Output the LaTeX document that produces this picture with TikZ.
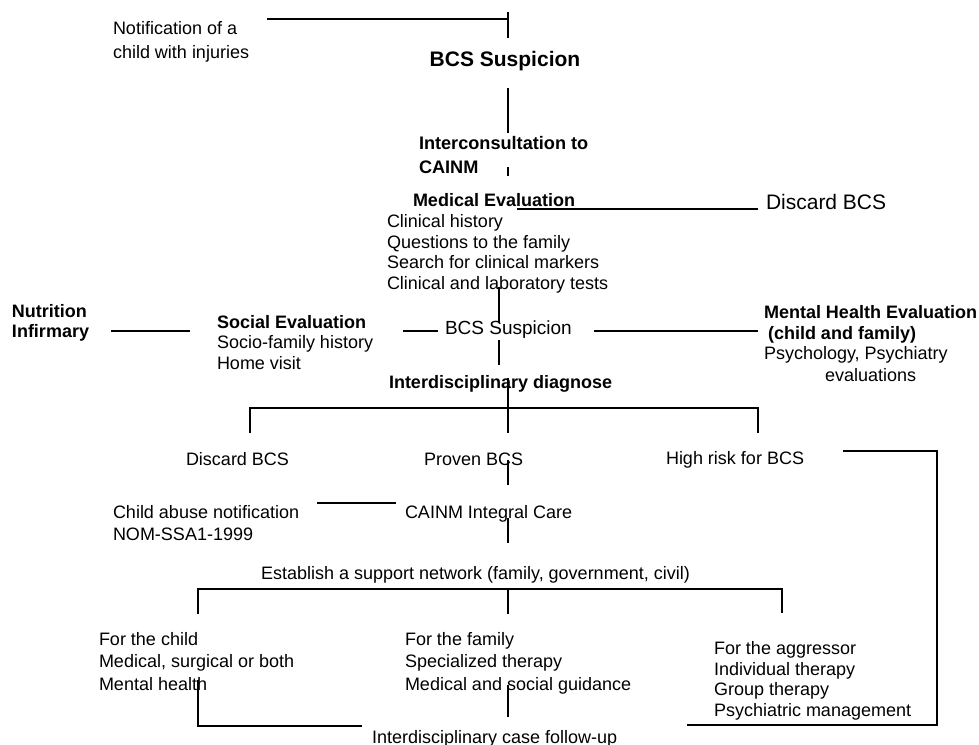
\documentclass[tikz,border=0pt]{standalone}
\usepackage{fontspec}
\setmainfont{Liberation Sans}
\newcommand{\fsz}[2]{\fontsize{#1}{#2}\selectfont}
\tikzset{
  txt/.style={inner sep=0pt, outer sep=0pt, anchor=base west, align=left, font=\fsz{13.5}{15.5}},
  btxt/.style={txt, font=\fsz{13.5}{15.5}\bfseries},
  ln/.style={line width=1.2pt, draw=black}
}
\begin{document}
\begin{tikzpicture}[x=0.75pt, y=-0.75pt]
\fill[white] (0,0) rectangle (979,744);
\useasboundingbox (0,0) rectangle (979,744);

% ---------- texts (multi-line nodes: position = baseline of last line) ----------
\node[txt, font=\fsz{13.5}{18}] (notif) at (113,58.5) {Notification of a\\child with injuries};
\node[btxt, anchor=base, font=\fsz{15.75}{18}\bfseries] (bcs1) at (505,66.5) {BCS Suspicion};
\node[btxt, font=\fsz{13.6}{18}\bfseries] (inter) at (419,173.5) {Interconsultation to\\CAINM};
\node[btxt] (medt) at (413,206.5) {Medical Evaluation};
\node[txt] (medl) at (387,289.5) {Clinical history\\Questions to the family\\Search for clinical markers\\Clinical and laboratory tests};
\node[txt, font=\fsz{15.75}{18}] (disc1) at (766,209.5) {Discard BCS};
\node[btxt, font=\fsz{13.5}{15}\bfseries] (nutr) at (12,337.5) {Nutrition\\Infirmary};
\node[txt, font=\fsz{13.5}{15.4}] (soc) at (217,369.5) {\textbf{Social Evaluation}\\Socio-family history\\Home visit};
\node[txt, font=\fsz{14.25}{16}] (bcs2) at (445,334.8) {BCS Suspicion};
\node[btxt, font=\fsz{13.5}{15.75}\bfseries] (mht) at (764,339.5) {Mental Health Evaluation\\\hspace*{3pt}(child and family)};
\node[txt, font=\fsz{13.5}{16.5}] (mhl) at (764,381.5) {Psychology, Psychiatry\\\hspace*{45.75pt}evaluations};
\node[btxt] (idiag) at (389,388.5) {Interdisciplinary diagnose};
\node[txt] (disc2) at (186,465.5) {Discard BCS};
\node[txt] (proven) at (424,465.5) {Proven BCS};
\node[txt] (high) at (666,464.5) {High risk for BCS};
\node[txt, font=\fsz{13.5}{16.5}] (abuse) at (113,540.5) {Child abuse notification\\NOM-SSA1-1999};
\node[txt] (care) at (405,518.5) {CAINM Integral Care};
\node[txt] (net) at (261,579.5) {Establish a support network (family, government, civil)};
\node[txt, font=\fsz{13.5}{16.9}] (child) at (99,690.5) {For the child\\Medical, surgical or both\\Mental health};
\node[txt, font=\fsz{13.5}{16.9}] (family) at (405,690.5) {For the family\\Specialized therapy\\Medical and social guidance};
\node[txt] (aggr) at (714,716.5) {For the aggressor\\Individual therapy\\Group therapy\\Psychiatric management};
\node[txt] (follow) at (372,743) {Interdisciplinary case follow-up};

% ---------- connector points ----------
\coordinate (a1) at (267,19);  \coordinate (a2) at (508,19);
\coordinate (a3) at (508,12);  \coordinate (a4) at (508,38);
\coordinate (b1) at (508,88);  \coordinate (b2) at (508,133);
\coordinate (c1) at (508,167); \coordinate (c2) at (508,176);
\coordinate (d1) at (517,209); \coordinate (d2) at (758,209);
\coordinate (e1) at (499,287); \coordinate (e2) at (499,322);
\coordinate (f1) at (403,331); \coordinate (f2) at (438,331);
\coordinate (g1) at (594,331); \coordinate (g2) at (758,331);
\coordinate (h1) at (111,331); \coordinate (h2) at (190,331);
\coordinate (i1) at (499,340); \coordinate (i2) at (499,365);
\coordinate (j1) at (508,378); \coordinate (j2) at (508,433);
\coordinate (k1) at (250,433); \coordinate (k2) at (250,408);
\coordinate (k3) at (758,408); \coordinate (k4) at (758,433);
\coordinate (m1) at (843,451); \coordinate (m2) at (937,451);
\coordinate (m3) at (937,725); \coordinate (m4) at (687,725);
\coordinate (n1) at (508,460); \coordinate (n2) at (508,485);
\coordinate (o1) at (317,503); \coordinate (o2) at (396,503);
\coordinate (p1) at (508,518); \coordinate (p2) at (508,543);
\coordinate (q1) at (198,614); \coordinate (q2) at (198,589);
\coordinate (q3) at (782,589); \coordinate (q4) at (782,613);
\coordinate (q5) at (508,589); \coordinate (q6) at (508,614);
\coordinate (r1) at (198,680); \coordinate (r2) at (198,726);
\coordinate (r3) at (362,726);
\coordinate (s1) at (508,685); \coordinate (s2) at (508,717);

% ---------- connectors ----------
\draw[ln] (a1) -- (a2);
\draw[ln] (a3) -- (a4);
\draw[ln] (b1) -- (b2);
\draw[ln] (c1) -- (c2);
\draw[ln] (d1) -- (d2);
\draw[ln] (e1) -- (e2);
\draw[ln] (f1) -- (f2);
\draw[ln] (g1) -- (g2);
\draw[ln] (h1) -- (h2);
\draw[ln] (i1) -- (i2);
\draw[ln] (j1) -- (j2);
\draw[ln] (k1) -- (k2) -- (k3) -- (k4);
\draw[ln] (m1) -- (m2) -- (m3) -- (m4);
\draw[ln] (n1) -- (n2);
\draw[ln] (o1) -- (o2);
\draw[ln] (p1) -- (p2);
\draw[ln] (q1) -- (q2) -- (q3) -- (q4);
\draw[ln] (q5) -- (q6);
\draw[ln] (r1) -- (r2) -- (r3);
\draw[ln] (s1) -- (s2);
\end{tikzpicture}
\end{document}
